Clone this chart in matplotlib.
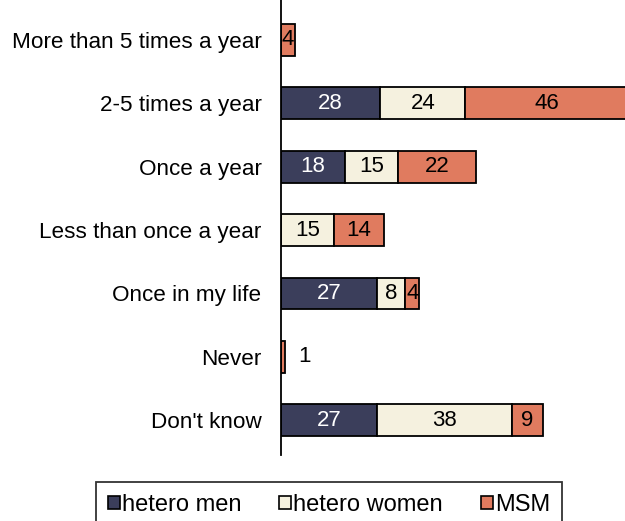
import matplotlib
matplotlib.use("Agg")
import matplotlib.pyplot as plt
from matplotlib.patches import Patch

plt.rcParams['font.family'] = ['Liberation Sans', 'DejaVu Sans']

categories = ["More than 5 times a year", "2-5 times a year", "Once a year",
              "Less than once a year", "Once in my life", "Never", "Don't know"]
hetero_men = [0, 28, 18, 0, 27, 0, 27]
hetero_women = [0, 24, 15, 15, 8, 0, 38]
msm = [4, 46, 22, 14, 4, 1, 9]
series_names = ["hetero men", "hetero women", "MSM"]
colors = ["#3b3e5b", "#f5f1df", "#e07b5f"]
text_colors = ["white", "black", "black"]

W, H = 625, 521
fig = plt.figure(figsize=(W / 100, H / 100), dpi=100)
ax_left = 281 / W
ax = fig.add_axes([ax_left, 1 - 455 / H, 1 - ax_left, 455 / H])

ys = list(range(len(categories)))
left = [0] * len(categories)
for vals, col, tcol in zip([hetero_men, hetero_women, msm], colors, text_colors):
    ax.barh(ys, vals, left=left, height=0.5, color=col, edgecolor="black",
            linewidth=1.3, zorder=2)
    for y, v, l in zip(ys, vals, left):
        if v <= 0:
            continue
        if v < 2:
            ax.text(l + v + 5.5, y, str(v), ha="center", va="center",
                    fontsize=16, color="black")
        else:
            ax.text(l + v / 2, y, str(v), ha="center", va="center",
                    fontsize=16, color=tcol)
    left = [a + b for a, b in zip(left, vals)]

ax.set_xlim(0, 97)
ax.set_ylim(6.55, -0.63)
ax.set_yticks(ys)
ax.set_yticklabels(categories, fontsize=16.2)
ax.tick_params(axis="y", length=0, pad=14)
ax.set_xticks([])
for s in ["top", "right", "bottom"]:
    ax.spines[s].set_visible(False)
ax.spines["left"].set_linewidth(1.3)

handles = [Patch(facecolor=c, edgecolor="black", linewidth=1.2) for c in colors]
leg = fig.legend(handles, series_names, loc="upper left",
                 bbox_to_anchor=(96 / W, 1 - 482 / H - 0.1, 466 / W, 0.1),
                 mode="expand", ncol=3, fontsize=17, frameon=True,
                 fancybox=False, handlelength=0.5, handleheight=0.5,
                 handletextpad=0.1, borderpad=0.5, borderaxespad=0)
leg.get_frame().set_edgecolor("black")
leg.get_frame().set_linewidth(1.3)

fig.savefig("out.png", dpi=100)
